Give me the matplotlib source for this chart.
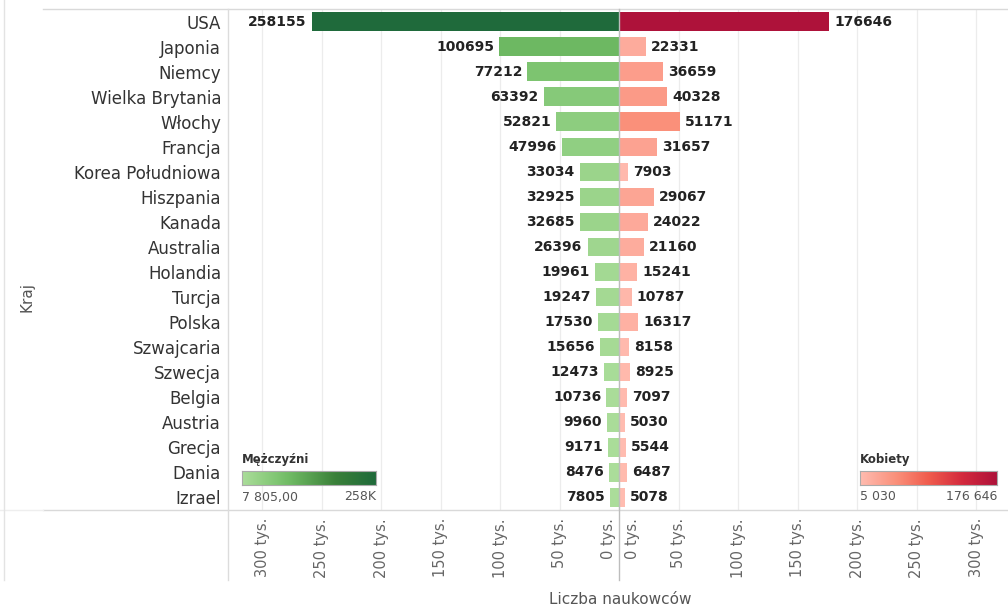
import numpy as np
import matplotlib.pyplot as plt
from matplotlib.colors import LinearSegmentedColormap, Normalize
from matplotlib.lines import Line2D

# Data
countries = ['USA', 'Japonia', 'Niemcy', 'Wielka Brytania', 'Włochy', 'Francja',
             'Korea Południowa', 'Hiszpania', 'Kanada', 'Australia', 'Holandia',
             'Turcja', 'Polska', 'Szwajcaria', 'Szwecja', 'Belgia', 'Austria',
             'Grecja', 'Dania', 'Izrael']
men = [258155, 100695, 77212, 63392, 52821, 47996, 33034, 32925, 32685, 26396,
       19961, 19247, 17530, 15656, 12473, 10736, 9960, 9171, 8476, 7805]
women = [176646, 22331, 36659, 40328, 51171, 31657, 7903, 29067, 24022, 21160,
         15241, 10787, 16317, 8158, 8925, 7097, 5030, 5544, 6487, 5078]
ticks = [0, 50000, 100000, 150000, 200000, 250000, 300000]

W, H = 1008, 611


def box(x0, y0, x1, y1):
    # pixel box -> figure fraction rect
    return [x0 / W, 1 - y1 / H, (x1 - x0) / W, (y1 - y0) / H]


def fig_line(x0, y0, x1, y1, color, lw=1.0):
    fig.add_artist(Line2D([x0 / W, x1 / W], [1 - y0 / H, 1 - y1 / H],
                          transform=fig.transFigure, color=color, lw=lw))


greens = LinearSegmentedColormap.from_list(
    'greens', [(0, '#abdd9a'), (0.27, '#7ec571'), (0.37, '#6db862'),
               (0.7, '#3a8039'), (1, '#1f6a3b')])
reds = LinearSegmentedColormap.from_list(
    'reds', [(0, '#ffbcb0'), (0.1, '#fdab9c'), (0.27, '#fa8f79'),
             (0.5, '#f05c4d'), (0.75, '#d3293d'), (1, '#ae123a')])
norm_m = Normalize(min(men), max(men))
norm_w = Normalize(min(women), max(women))

fig = plt.figure(figsize=(10.08, 6.11), dpi=100)
ax_l = fig.add_axes(box(228, 9, 619, 510))
ax_r = fig.add_axes(box(619, 9, 1008, 510))

y = np.arange(len(countries))
ax_l.barh(y, men, height=0.74, color=greens(norm_m(np.array(men))), zorder=2)
ax_r.barh(y, women, height=0.74, color=reds(norm_w(np.array(women))), zorder=2)

ax_l.set_xlim(328600, 0)
ax_r.set_xlim(0, 326500)
for ax in (ax_l, ax_r):
    ax.set_ylim(19.5, -0.5)
    ax.set_xticks(ticks)
    ax.tick_params(axis='x', length=0, labelbottom=False)
    ax.grid(axis='x', color='#ececec', lw=0.9, zorder=0)
    for s in ax.spines.values():
        s.set_visible(False)

ax_l.set_yticks(y)
ax_l.set_yticklabels(countries, fontsize=12, color='#333333')
ax_l.tick_params(axis='y', length=0, pad=5)
ax_r.set_yticks([])

# value labels
for i, v in enumerate(men):
    ax_l.annotate(str(v), (v, i), xytext=(-5, 0), textcoords='offset pixels',
                  ha='right', va='center', fontsize=10, fontweight='bold',
                  color='#222222')
for i, v in enumerate(women):
    ax_r.annotate(str(v), (v, i), xytext=(5, 0), textcoords='offset pixels',
                  ha='left', va='center', fontsize=10, fontweight='bold',
                  color='#222222')

# x tick labels
for ax, shift in ((ax_l, -11), (ax_r, 14)):
    for t in ticks:
        dx = shift if t == 0 else 0
        ax.annotate(f'{t // 1000} tys.', (t, 0), xycoords=('data', 'axes fraction'),
                    xytext=(dx, -8), textcoords='offset pixels', rotation=90,
                    ha='center', va='top', fontsize=10.5, color='#666666',
                    annotation_clip=False)

# pane lines
fig_line(43, 9, 1008, 9, '#d9d9d9')
fig_line(43, 510, 1008, 510, '#d9d9d9')
fig_line(0, 510, 43, 510, '#eeeeee')
fig_line(4, 0, 4, 580, '#e3e3e3')
fig_line(228, 9, 228, 580, '#dcdcdc')
fig_line(619, 9, 619, 580, '#bdbdbd')

fig.text(27 / W, 1 - 297 / H, 'Kraj', rotation=90, ha='center', va='center',
         fontsize=11, color='#555555')
fig.text(620 / W, 1 - 600 / H, 'Liczba naukowców', ha='center', va='center',
         fontsize=11, color='#555555')

# color legends
grad = np.linspace(0, 1, 256)[None, :]
for x0, x1, title, cmap, lo, hi in ((242, 376, 'Mężczyźni', greens, '7 805,00', '258K'),
                                     (860, 997, 'Kobiety', reds, '5 030', '176 646')):
    fig.text(x0 / W, 1 - 460 / H, title, ha='left', va='center', fontsize=8.5,
             fontweight='bold', color='#333333')
    lax = fig.add_axes(box(x0, 471, x1, 485))
    lax.imshow(grad, cmap=cmap, aspect='auto')
    lax.set_xticks([])
    lax.set_yticks([])
    for s in lax.spines.values():
        s.set_color('#aaaaaa')
        s.set_linewidth(0.8)
    fig.text(x0 / W, 1 - 497 / H, lo, ha='left', va='center', fontsize=9,
             color='#555555')
    fig.text(x1 / W, 1 - 497 / H, hi, ha='right', va='center', fontsize=9,
             color='#555555')

plt.savefig('out.png', dpi=100)
